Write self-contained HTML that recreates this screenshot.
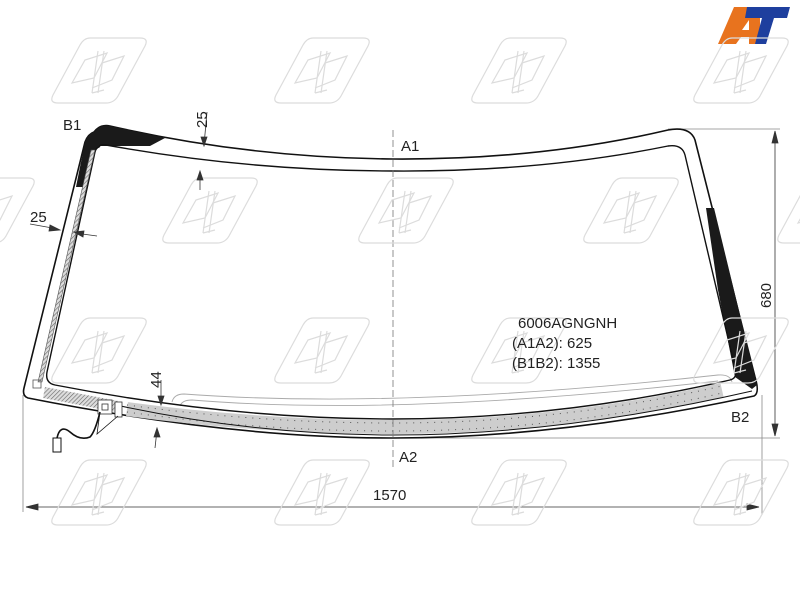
<!DOCTYPE html>
<html><head><meta charset="utf-8"><style>
html,body{margin:0;padding:0;background:#fff;width:800px;height:600px;overflow:hidden}
svg{display:block}
text{font-family:"Liberation Sans",sans-serif;fill:#222}
</style></head><body>
<svg width="800" height="600" viewBox="0 0 800 600" xmlns="http://www.w3.org/2000/svg">
<defs>
<g id="wm" fill="none" stroke="#dcdcdc" stroke-width="1.2">
<path d="M38,0 L88,0 Q97,0 93,8 L66,58 Q62,65 54,65 L6,65 Q-3,65 1,57 L28,7 Q32,0 38,0 Z"/>
<path d="M20,45 L33,22 L55,15 L42,40 Z M50,25 L72,18 L60,42 L40,50"/>
<path d="M46,13 L40,55 M52,13 L46,55 M40,55 L52,52"/>
</g>
<pattern id="hatch" width="3" height="3" patternUnits="userSpaceOnUse" patternTransform="rotate(45)">
<rect width="3" height="3" fill="#ddd"/><line x1="0" y1="0" x2="0" y2="3" stroke="#666" stroke-width="1.2"/>
</pattern>
</defs>
<!-- logo -->
<polygon points="734,7 760,7 760,44 749,44 749,37 741,37 736,44 718,44" fill="#e8731e"/>
<polygon points="747,7 790,7 787,18 774,18 766,44 755,44 762,18 745,18" fill="#1e3f9e"/>
<polygon points="742,30 749,20 749,30" fill="#fff"/>

<!-- dimension / extension lines -->
<g stroke="#888" stroke-width="0.8" fill="none">
<line x1="668" y1="129" x2="780" y2="129"/>
<line x1="400" y1="438" x2="780" y2="438"/>
<line x1="23" y1="395" x2="23" y2="512"/>
<line x1="762" y1="395" x2="762" y2="515"/>
</g>
<g stroke="#333" stroke-width="0.8" fill="#333">
<line x1="775" y1="131" x2="775" y2="436"/>
<polygon points="775,131 772,143 778,143"/><polygon points="775,436 772,424 778,424"/>
<line x1="26" y1="507" x2="759" y2="507"/>
<polygon points="26,507 38,504 38,510"/><polygon points="759,507 747,504 747,510"/>
</g>

<!-- glass outer -->
<path d="M94,132 Q100,124 110,126 Q250,158 393,159 Q540,160 668,130 Q690,126 695,140 L755,377 Q760,393 754,396 Q560,438 393,438 Q230,438 28,398 Q22,396 24,388 L85,142 Q88,134 94,132 Z" fill="none" stroke="#111" stroke-width="1.6"/>
<!-- black ceramic top-left -->
<path d="M94,132 Q100,124 110,126 L165,138 L150,146 L100,146 Q96,148 95,153 L83,187 L76,187 L85,142 Q88,134 94,132 Z" fill="#1a1a1a"/>
<!-- right black band -->
<path d="M706,208 L714,208 L757,385 L752,389 L735,377 L718,290 Z" fill="#1a1a1a"/>
<!-- thin lines above strip -->
<path d="M172,402 Q174,394 184,394 Q400,410 718,375 Q730,374 732,382" fill="none" stroke="#aaa" stroke-width="0.9"/>
<path d="M180,406 Q182,400 192,400 Q400,417 718,381" fill="none" stroke="#aaa" stroke-width="0.9"/>
<!-- heating grey strip -->
<path d="M127,409 Q260,427 393,427 Q560,427 722,390" fill="none" stroke="#cdcdcd" stroke-width="14"/>
<path d="M127,405 Q260,423 393,423 Q560,423 722,386" fill="none" stroke="#555" stroke-width="1" stroke-dasharray="1,6"/>
<path d="M127,412 Q260,431 393,431 Q560,431 722,393" fill="none" stroke="#555" stroke-width="1" stroke-dasharray="1,6"/>
<!-- inner line -->
<path d="M99,147 Q100,144 106,145 Q250,171 393,171 Q540,172 668,146 Q682,144 685,155 L735,368 Q738,378 730,380 Q560,419 393,419 Q230,419 55,385 Q45,383 47,372 L95,152 Q96,148 99,147 Z" fill="none" stroke="#111" stroke-width="1.4"/>
<path d="M85,398 Q240,435 393,435 Q560,435 752,391" fill="none" stroke="#111" stroke-width="1"/>
<!-- left hatched strip -->
<path d="M91,150 L95,150 L42,382 L38,382 Z" fill="url(#hatch)" stroke="#555" stroke-width="0.6"/>
<rect x="33" y="380" width="8" height="8" fill="none" stroke="#555" stroke-width="0.8"/>
<!-- hatched block bottom-left -->
<path d="M45,387 L118,401 L116,412 L43,398 Z" fill="url(#hatch)"/>
<!-- connector boxes -->
<rect x="98" y="400" width="14" height="14" fill="#fff" stroke="#333" stroke-width="0.8"/>
<rect x="102" y="404" width="6" height="6" fill="none" stroke="#333" stroke-width="0.8"/>
<rect x="115" y="402" width="7" height="15" fill="#fff" stroke="#333" stroke-width="0.8"/>
<!-- cable -->
<path d="M100,412 Q95,432 90,437 Q80,441 70,432 Q60,424 57,438" fill="none" stroke="#111" stroke-width="1.6"/>
<path d="M100,412 L97,434 L118,416" fill="none" stroke="#111" stroke-width="0.8"/>
<rect x="53" y="438" width="8" height="14" fill="#fff" stroke="#111" stroke-width="1"/>

<line x1="393" y1="130" x2="393" y2="470" stroke="#777" stroke-width="0.8" stroke-dasharray="7,3"/>

<!-- watermarks -->
<use href="#wm" x="52" y="38"/><use href="#wm" x="275" y="38"/><use href="#wm" x="472" y="38"/><use href="#wm" x="694" y="38"/>
<use href="#wm" x="-60" y="178"/><use href="#wm" x="163" y="178"/><use href="#wm" x="359" y="178"/><use href="#wm" x="584" y="178"/><use href="#wm" x="778" y="178"/>
<use href="#wm" x="52" y="318"/><use href="#wm" x="275" y="318"/><use href="#wm" x="472" y="318"/><use href="#wm" x="694" y="318"/>
<use href="#wm" x="52" y="460"/><use href="#wm" x="275" y="460"/><use href="#wm" x="472" y="460"/><use href="#wm" x="694" y="460"/>

<!-- small dim arrows -->
<g stroke="#333" stroke-width="0.8" fill="#333">
<line x1="207" y1="112" x2="204" y2="145"/><polygon points="204,146 201,137 207,137"/>
<line x1="200" y1="172" x2="200" y2="190"/><polygon points="200,171 197,180 203,180"/>
<line x1="30" y1="224" x2="58" y2="229"/><polygon points="60,230 50,225 49,231"/>
<line x1="75" y1="233" x2="97" y2="236"/><polygon points="74,232 84,231 83,237"/>
<line x1="161" y1="380" x2="161" y2="404"/><polygon points="161,405 158,396 164,396"/>
<line x1="157" y1="430" x2="155" y2="448"/><polygon points="157,428 154,437 160,437"/>
</g>

<!-- labels -->
<text x="63" y="130" font-size="15">B1</text>
<text x="401" y="151" font-size="15">A1</text>
<text x="399" y="462" font-size="15">A2</text>
<text x="731" y="422" font-size="15">B2</text>
<text x="373" y="500" font-size="15">1570</text>
<text x="30" y="222" font-size="15">25</text>
<text font-size="15" transform="translate(207,128) rotate(-90)">25</text>
<text font-size="15" transform="translate(161,388) rotate(-90)">44</text>
<text font-size="15" transform="translate(771,308) rotate(-90)">680</text>
<text x="518" y="328" font-size="15">6006AGNGNH</text>
<text x="512" y="348" font-size="15">(A1A2): 625</text>
<text x="512" y="368" font-size="15">(B1B2): 1355</text>
</svg>
</body></html>
